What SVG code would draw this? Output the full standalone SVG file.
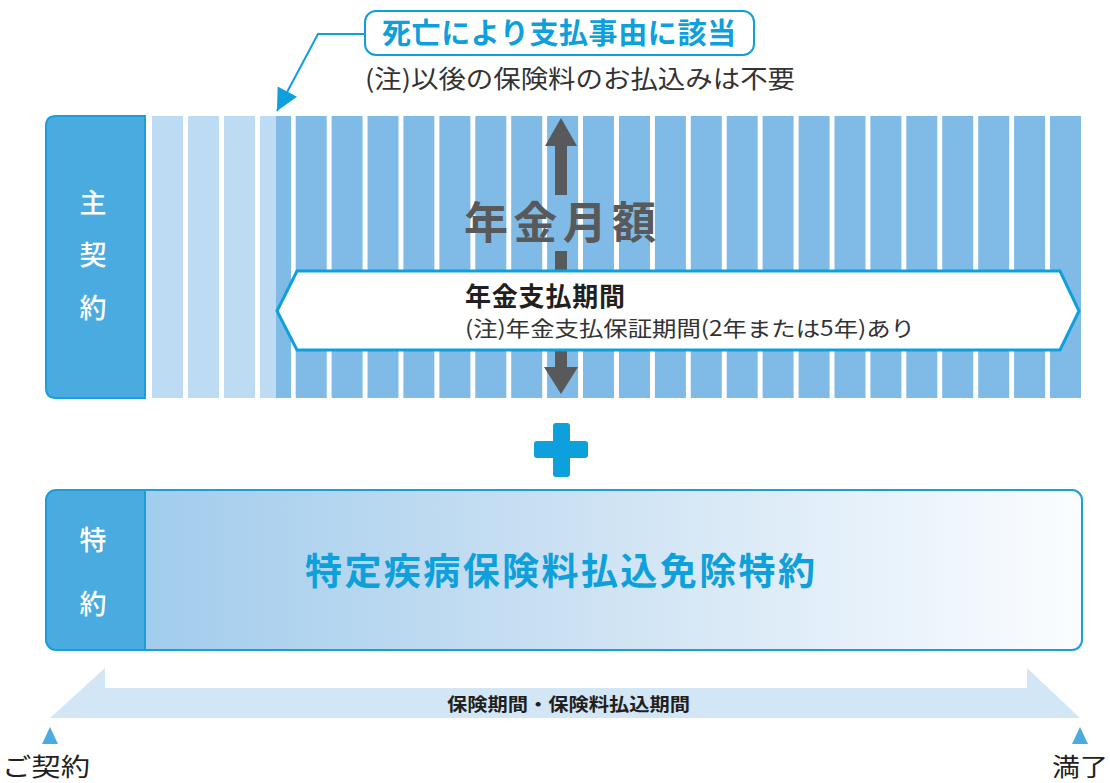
<svg xmlns="http://www.w3.org/2000/svg" width="1110" height="783" viewBox="0 0 1110 783">
<defs>
<style>
.jp{font-family:"Noto Sans CJK JP","Noto Sans",sans-serif;}
.lbl{fill:#ffffff;font-size:27px;font-weight:500;text-anchor:middle;}
.sl{fill:#bddbf2;}
.sd{fill:#7fbbe6;}
.blue{fill:#0ea0dc;}
.gray{fill:#58595b;}
.dark{fill:#333333;}
</style>
<linearGradient id="grad" x1="0" y1="0" x2="1" y2="0">
<stop offset="0" stop-color="#98c8eb"/>
<stop offset="0.45" stop-color="#c6def2"/>
<stop offset="1" stop-color="#fbfdff"/>
</linearGradient>
<marker id="ah" viewBox="0 0 10 10" refX="10" refY="5" markerWidth="24" markerHeight="22" orient="auto" markerUnits="userSpaceOnUse">
<path d="M0,0 L10,5 L0,10 z" fill="#0ea0dc"/>
</marker>
</defs>

<g id="main-contract">
<path d="M56,116 H145 V398 H56 Q46,398 46,388 V126 Q46,116 56,116 Z" fill="#4aabe0" stroke="#1a9fdc" stroke-width="2"/>
<text class="jp lbl" x="93" y="213">主</text>
<text class="jp lbl" x="93" y="265">契</text>
<text class="jp lbl" x="93" y="318">約</text>
</g>

<g id="stripes">
<rect class="sl" x="152" y="116" width="31" height="282"/>
<rect class="sl" x="188" y="116" width="31" height="282"/>
<rect class="sl" x="224" y="116" width="31" height="282"/>
<rect class="sl" x="260" y="116" width="16" height="282"/>
<rect class="sd" x="276" y="116" width="15" height="282"/>
<rect class="sd" x="295.7" y="116" width="31" height="282"/>
<rect class="sd" x="331.6" y="116" width="31" height="282"/>
<rect class="sd" x="367.5" y="116" width="31" height="282"/>
<rect class="sd" x="403.4" y="116" width="31" height="282"/>
<rect class="sd" x="439.4" y="116" width="31" height="282"/>
<rect class="sd" x="475.3" y="116" width="31" height="282"/>
<rect class="sd" x="511.2" y="116" width="31" height="282"/>
<rect class="sd" x="547.1" y="116" width="31" height="282"/>
<rect class="sd" x="583.0" y="116" width="31" height="282"/>
<rect class="sd" x="619.0" y="116" width="31" height="282"/>
<rect class="sd" x="654.9" y="116" width="31" height="282"/>
<rect class="sd" x="690.8" y="116" width="31" height="282"/>
<rect class="sd" x="726.7" y="116" width="31" height="282"/>
<rect class="sd" x="762.6" y="116" width="31" height="282"/>
<rect class="sd" x="798.6" y="116" width="31" height="282"/>
<rect class="sd" x="834.5" y="116" width="31" height="282"/>
<rect class="sd" x="870.4" y="116" width="31" height="282"/>
<rect class="sd" x="906.3" y="116" width="31" height="282"/>
<rect class="sd" x="942.2" y="116" width="31" height="282"/>
<rect class="sd" x="978.2" y="116" width="31" height="282"/>
<rect class="sd" x="1014.1" y="116" width="31" height="282"/>
<rect class="sd" x="1050" y="116" width="31" height="282"/>
</g>

<g id="pension-amount">
<path d="M561,118 L577,146 L567,146 L567,195 L555,195 L555,146 L545,146 Z" fill="#58595b"/>
<rect x="555" y="251" width="12" height="22" fill="#58595b"/>
<path d="M555,349 L567,349 L567,367 L578,367 L561,394 L544,367 L555,367 Z" fill="#58595b"/>
<text class="jp gray" x="464" y="239" font-size="44" font-weight="700" textLength="192" lengthAdjust="spacing">年金月額</text>
</g>

<g id="payment-period">
<polygon points="297,271 1060,271 1079,311 1060,350 297,350 277,311" fill="#ffffff" stroke="#0ea0dc" stroke-width="3"/>
<text class="jp" x="465" y="306" font-size="26" font-weight="700" fill="#231f20" textLength="160" lengthAdjust="spacing">年金支払期間</text>
<text class="jp dark" x="465" y="336" font-size="21" textLength="450" lengthAdjust="spacingAndGlyphs">(注)年金支払保証期間(2年または5年)あり</text>
</g>

<g id="death-callout">
<rect x="365" y="11" width="389" height="44" rx="11" ry="11" fill="#ffffff" stroke="#0ea0dc" stroke-width="2"/>
<text class="jp blue" x="382" y="44" font-size="29" font-weight="700" textLength="354" lengthAdjust="spacing">死亡により支払事由に該当</text>
<text class="jp dark" x="365" y="88" font-size="25" textLength="430" lengthAdjust="spacingAndGlyphs">(注)以後の保険料のお払込みは不要</text>
</g>

<g id="plus">
<rect x="553" y="423" width="17" height="54" rx="3" class="blue"/>
<rect x="534" y="441" width="54" height="17" rx="3" class="blue"/>
</g>

<g id="rider">
<rect x="46" y="490" width="1036" height="160" rx="10" ry="10" fill="url(#grad)"/>
<path d="M56,490 H145 V650 H56 Q46,650 46,640 V500 Q46,490 56,490 Z" fill="#4aabe0"/>
<line x1="145" y1="490" x2="145" y2="650" stroke="#1a9fdc" stroke-width="2"/>
<rect x="46" y="490" width="1036" height="160" rx="10" ry="10" fill="none" stroke="#1a9fdc" stroke-width="2"/>
<text class="jp lbl" x="93" y="550">特</text>
<text class="jp lbl" x="93" y="614">約</text>
<text class="jp blue" x="305" y="585" font-size="37" font-weight="700" textLength="510" lengthAdjust="spacing">特定疾病保険料払込免除特約</text>
</g>

<g id="period-band">
<polygon points="50,718 105,668 105,688 1027,688 1027,668 1080,718" fill="#d2e6f6"/>
<text class="jp" x="447" y="711" font-size="18" font-weight="700" fill="#231f20" textLength="243" lengthAdjust="spacingAndGlyphs">保険期間・保険料払込期間</text>
</g>

<g id="start">
<polygon points="50,727 58,744 42,744" fill="#4aabe0"/>
<text class="jp" x="2" y="776" font-size="25" fill="#231f20" textLength="88" lengthAdjust="spacingAndGlyphs">ご契約</text>
</g>

<g id="end">
<polygon points="1080,727 1088,744 1072,744" fill="#4aabe0"/>
<text class="jp" x="1052" y="776" font-size="25" fill="#231f20" textLength="56" lengthAdjust="spacingAndGlyphs">満了</text>
</g>

<g id="connectors">
<polyline points="365,34 318,34 277,111" fill="none" stroke="#0ea0dc" stroke-width="2" marker-end="url(#ah)"/>
</g>
</svg>
